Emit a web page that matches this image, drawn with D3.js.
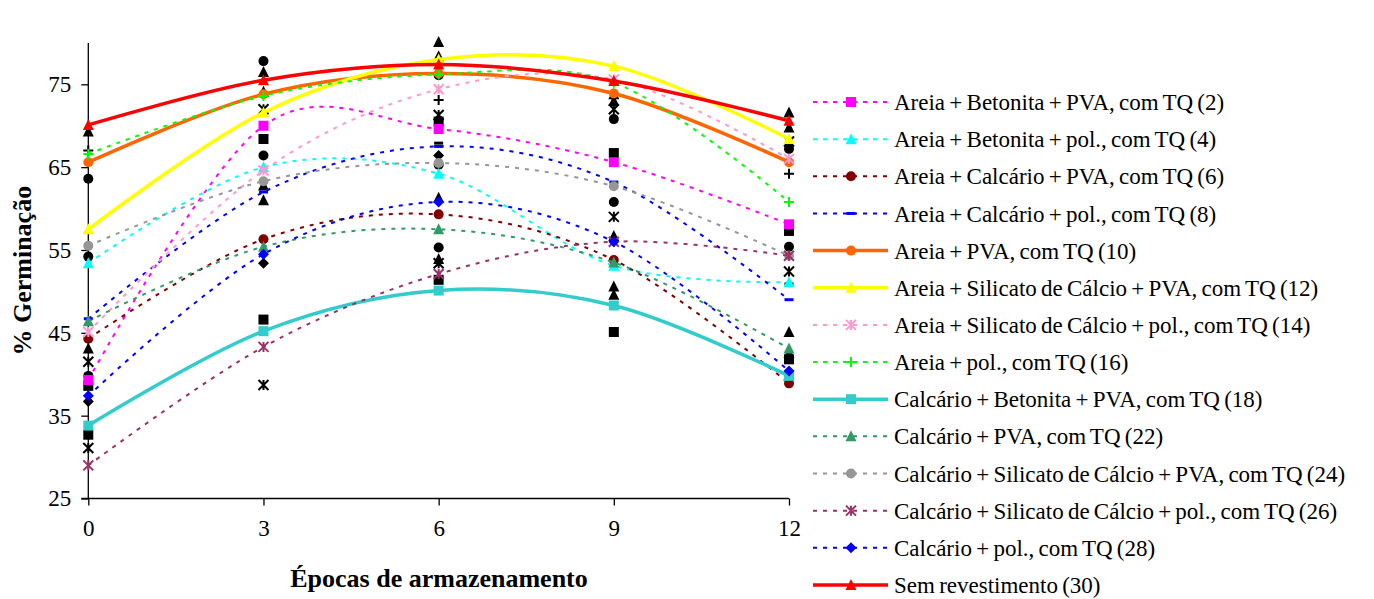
<!DOCTYPE html>
<html><head><meta charset="utf-8">
<script src="https://cdn.jsdelivr.net/npm/d3@7"></script>
<style>
body{margin:0;background:#fff;}
svg{display:block;}
text{font-family:"Liberation Serif","Times New Roman",serif;fill:#000;}
</style></head>
<body>
<svg id="chart" width="1374" height="599"></svg>
<script>
// ---- data ----
const epochs = [0, 3, 6, 9, 12];
const yTicks = [25, 35, 45, 55, 65, 75];

const seriesNames = [
  "Areia + Betonita + PVA, com TQ (2)",
  "Areia + Betonita + pol., com TQ (4)",
  "Areia + Calcário + PVA, com TQ (6)",
  "Areia + Calcário + pol., com TQ (8)",
  "Areia + PVA, com TQ (10)",
  "Areia + Silicato de Cálcio + PVA, com TQ (12)",
  "Areia + Silicato de Cálcio + pol., com TQ (14)",
  "Areia + pol., com TQ (16)",
  "Calcário + Betonita + PVA, com TQ (18)",
  "Calcário + PVA, com TQ (22)",
  "Calcário + Silicato de Cálcio + PVA, com TQ (24)",
  "Calcário + Silicato de Cálcio + pol., com TQ (26)",
  "Calcário + pol., com TQ (28)",
  "Sem revestimento (30)"
];
const s2  = [39.3, 70.0, 69.6, 65.6, 58.1];
const s4  = [53.4, 65.0, 64.2, 53.1, 51.1];
const s6  = [44.3, 56.3, 59.3, 53.8, 38.9];
const s8  = [46.7, 62.0, 67.5, 63.2, 49.0];
const s10 = [65.6, 73.8, 76.3, 73.9, 65.6];
const s12 = [57.5, 71.6, 78.0, 77.2, 68.4];
const s14 = [45.1, 64.6, 74.4, 75.6, 66.0];
const s16 = [66.6, 73.6, 76.2, 75.2, 60.8];
const s18 = [33.8, 45.2, 50.1, 48.3, 39.8];
const s22 = [46.4, 55.4, 57.5, 53.5, 43.1];
const s24 = [55.5, 63.3, 65.5, 62.7, 54.3];
const s26 = [29.0, 43.3, 52.1, 56.0, 54.3];
const s28 = [37.4, 54.5, 60.8, 56.0, 40.4];
const s30 = [70.1, 75.5, 77.4, 75.4, 70.6];
const seriesValues = [s2, s4, s6, s8, s10, s12, s14, s16, s18, s22, s24, s26, s28, s30];

// unlabeled black marker points: [epoch, value]
const blackCircle   = [[0,63.6],[0,54.2],[0,39.8],[3,77.8],[3,66.4],[6,76.1],[6,65.3],[6,55.3],[9,70.8],[9,60.8],[12,67.2],[12,55.4]];
const blackTriangle = [[0,69.3],[0,43.1],[3,76.5],[3,74.1],[3,62.8],[3,61.0],[6,80.1],[6,78.4],[6,61.3],[6,53.9],[9,73.8],[9,73.0],[9,56.7],[9,50.6],[9,49.6],[12,71.6],[12,69.8],[12,45.1],[12,42.6]];
const blackSquare   = [[0,38.6],[0,32.7],[3,68.4],[3,46.6],[6,70.5],[6,51.4],[9,66.7],[9,45.1],[12,57.3],[12,41.8]];
const blackStar     = [[0,41.5],[0,31.1],[3,72.0],[3,38.7],[6,71.3],[6,53.4],[9,72.0],[9,59.0],[12,68.1],[12,52.4]];
const blackPlus     = [[0,67.0],[6,73.1],[12,64.2]];
const blackDiamond  = [[0,36.7],[3,53.4],[6,66.4]];
const blackDash     = [[0,44.5],[6,67.9],[12,50.9]];

// ---- styles ----
const styles = [
  {color:"#FF00FF", dash:true,  marker:"square"},
  {color:"#00FFFF", dash:true,  marker:"triangle"},
  {color:"#800000", dash:true,  marker:"circle"},
  {color:"#0000FF", dash:true,  marker:"dash"},
  {color:"#FF6600", dash:false, marker:"circle"},
  {color:"#FFFF00", dash:false, marker:"triangle"},
  {color:"#FF99CC", dash:true,  marker:"star"},
  {color:"#00FF00", dash:true,  marker:"plus"},
  {color:"#33CCCC", dash:false, marker:"square"},
  {color:"#339966", dash:true,  marker:"triangle"},
  {color:"#969696", dash:true,  marker:"circle"},
  {color:"#993366", dash:true,  marker:"star"},
  {color:"#0000FF", dash:true,  marker:"diamond"},
  {color:"#FF0000", dash:false, marker:"triangle"}
];

const FONT = "'Liberation Serif','Times New Roman',serif";
const svg = d3.select("#chart");
const x = d3.scaleLinear().domain([0, 12]).range([88.3, 789]);
const y = d3.scaleLinear().domain([25, 80]).range([498.5, 42.9]);

function markerPath(type, s) {
  const h = s / 2;
  switch (type) {
    case "square": return `M${-h},${-h}h${s}v${s}h${-s}Z`;
    case "triangle": return `M0,${-h-1}L${h+0.5},${h}L${-h-0.5},${h}Z`;
    case "diamond": return `M0,${-h-0.5}L${h+0.5},0L0,${h+0.5}L${-h-0.5},0Z`;
    case "dash": return `M${-h+0.5},-1.5h${s-1}v3h${-(s-1)}Z`;
    case "plus": return `M${-h},0H${h}M0,${-h}V${h}`;
    case "star": return `M${-h},${-h}L${h},${h}M${h},${-h}L${-h},${h}M0,${-h}V${h}`;
    case "circle": return d3.symbol(d3.symbolCircle, Math.PI * h * h)();
  }
}
function drawMarker(g, type, color, cx, cy, s) {
  const stroked = (type === "plus" || type === "star");
  g.append("path")
    .attr("d", markerPath(type, s))
    .attr("transform", `translate(${cx},${cy})`)
    .attr("fill", stroked ? "none" : color)
    .attr("stroke", stroked ? color : "none")
    .attr("stroke-width", stroked ? 2 : 0);
}

// ---- axes ----
const axisG = svg.append("g");
const yAxis = d3.axisLeft(y).tickValues(yTicks).tickSize(7).tickPadding(10).tickFormat(d3.format("d"));
const gy = axisG.append("g").attr("transform", `translate(${x(0)},0)`).call(yAxis);
gy.attr("font-family", null);
gy.select(".domain").attr("d", `M0,${y(80)}V${y(25)}`).attr("stroke", "#000").attr("stroke-width", 1.3);
gy.selectAll(".tick line").attr("stroke", "#000").attr("stroke-width", 1.3);
gy.selectAll(".tick text").style("font-family", FONT).style("font-size", "23px");

const xAxis = d3.axisBottom(x).tickValues(epochs).tickSize(7).tickPadding(14).tickFormat(d3.format("d"));
const gx = axisG.append("g").attr("transform", `translate(0,${y(25)})`).call(xAxis);
gx.attr("font-family", null);
gx.select(".domain").attr("d", `M${x(0)-7},0H${x(12)}`).attr("stroke", "#000").attr("stroke-width", 1.3);
gx.selectAll(".tick line").attr("stroke", "#000").attr("stroke-width", 1.3);
gx.selectAll(".tick text").style("font-family", FONT).style("font-size", "23px");

svg.append("text")
  .attr("transform", `translate(31,${(y(80)+y(25))/2}) rotate(-90)`)
  .attr("text-anchor", "middle")
  .style("font-family", FONT)
  .style("font-size", "26px").style("font-weight", "bold")
  .text("% Germinação");
svg.append("text")
  .attr("x", 439).attr("y", 587)
  .attr("text-anchor", "middle")
  .style("font-family", FONT)
  .style("font-size", "26px").style("font-weight", "bold")
  .text("Épocas de armazenamento");

// ---- black unlabeled markers ----
const blackG = svg.append("g");
const blackSets = [
  [blackCircle, "circle"], [blackTriangle, "triangle"], [blackSquare, "square"],
  [blackStar, "star"], [blackPlus, "plus"], [blackDiamond, "diamond"], [blackDash, "dash"]
];
blackSets.forEach(([pts, type]) => {
  pts.forEach(p => drawMarker(blackG, type, "#000", x(p[0]), y(p[1]), 10));
});

// ---- colored series ----
const line = d3.line().curve(d3.curveCardinal.tension(0)).x((d, i) => x(epochs[i])).y(d => y(d));
const seriesG = svg.append("g");
seriesValues.forEach((vals, i) => {
  const st = styles[i];
  const g = seriesG.append("g");
  g.append("path")
    .attr("d", line(vals))
    .attr("fill", "none")
    .attr("stroke", st.color)
    .attr("stroke-width", st.dash ? 2 : 3.5)
    .attr("stroke-dasharray", st.dash ? "4,6" : null);
  vals.forEach((v, j) => drawMarker(g, st.marker, st.color, x(epochs[j]), y(v), 10));
});

// ---- legend ----
const legG = svg.append("g");
const legTop = 102, legStep = 37.15;
seriesNames.forEach((name, i) => {
  const st = styles[i];
  const cy = legTop + i * legStep;
  const g = legG.append("g");
  g.append("line").attr("x1", 813).attr("x2", 888).attr("y1", cy).attr("y2", cy)
    .attr("stroke", st.color).attr("stroke-width", st.dash ? 2 : 3.5)
    .attr("stroke-dasharray", st.dash ? "4,6" : null);
  drawMarker(g, st.marker, st.color, 851, cy, 10);
  g.append("text").attr("x", 894).attr("y", cy).attr("dy", "0.35em")
    .style("font-family", FONT)
    .style("font-size", "23px").style("word-spacing", "-1.5px")
    .text(name);
});
</script>
</body></html>
